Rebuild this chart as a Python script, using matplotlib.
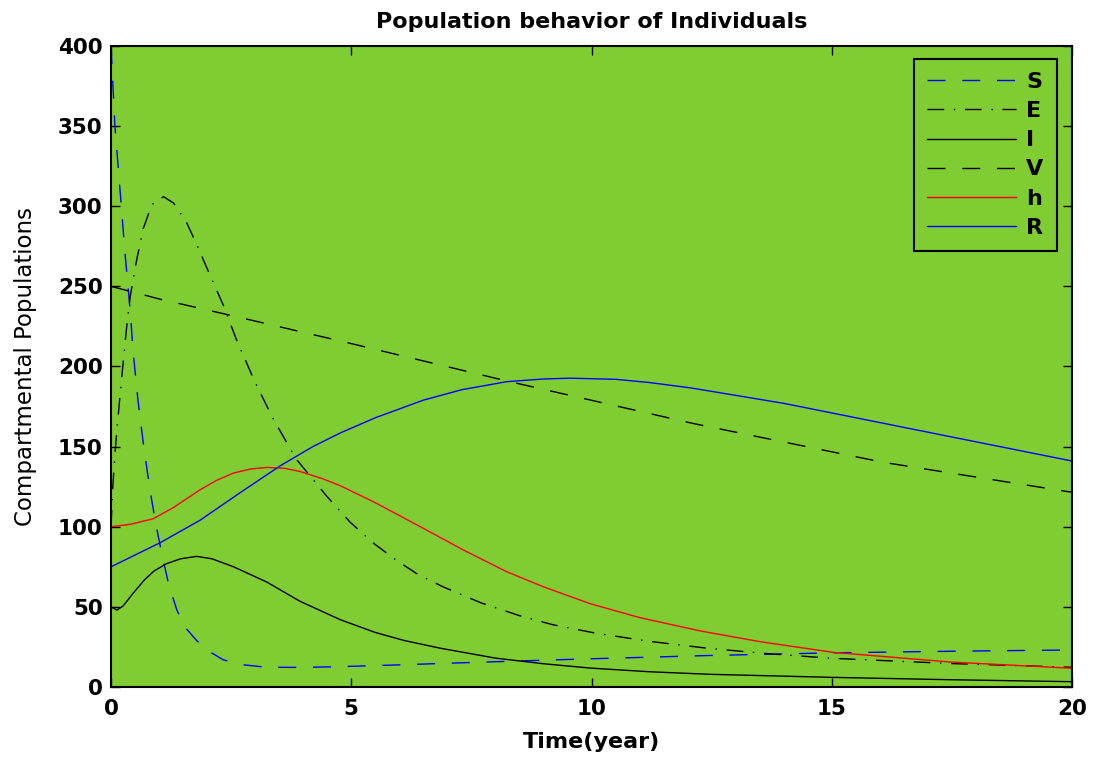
import numpy as np
import matplotlib
matplotlib.use('Agg')
from matplotlib import pyplot as plt

# values
t_S = [0, 0.08, 0.19, 0.29, 0.40, 0.46, 0.56, 0.68, 0.81, 0.93, 1.05, 1.2, 1.37, 1.55, 1.78, 2.0,
       2.33, 2.7, 3.24, 4.0, 4.77, 6.0, 7.0, 8.58, 10.0, 12.4, 15.0, 17.5, 20]
S = [400, 350, 309, 271, 234, 209, 179, 150, 123, 102, 84, 64, 48, 37, 29, 23,
     17, 14, 12.3, 12.2, 12.7, 13.8, 14.8, 16.3, 17.6, 19.6, 21.3, 22.3, 23.1]

t_E = [0, 0.03, 0.08, 0.13, 0.19, 0.26, 0.33, 0.40, 0.53, 0.67, 0.85, 1.09, 1.3, 1.57, 1.8, 2.03,
       2.34, 2.62, 3.0, 3.38, 3.86, 4.49, 4.97, 5.45, 5.94, 6.4, 6.91, 7.7, 8.51, 9.2, 10.1,
       11.2, 12.4, 13.7, 15.0, 17.5, 20]
E = [100, 122, 145, 163, 183, 205, 226, 244, 266, 286, 301, 306, 302, 290, 275, 259,
     238, 216, 190, 167, 142, 119, 103, 90, 79, 70, 62.5, 52.5, 44.4, 38.8, 33.5,
     28.5, 24.2, 20.7, 17.9, 14.6, 12.3]

t_I = [0, 0.12, 0.25, 0.46, 0.7, 0.9, 1.16, 1.45, 1.78, 2.1, 2.55, 3.24, 3.93, 4.77, 5.5,
       6.1, 6.85, 8.0, 9.0, 9.97, 11.2, 12.47, 15, 17.5, 20]
I = [50, 48, 50.5, 58.5, 67, 72.5, 77, 80, 81.5, 80, 75, 65.5, 53.5, 42, 34,
     29, 24.2, 18, 14.5, 11.8, 9.5, 7.9, 6, 4.5, 3.3]

t_V = [0, 1.02, 2.55, 4.9, 8.23, 12.12, 16.07, 20]
V = [250, 242, 231.5, 215, 191, 164.4, 140.2, 121.5]

t_h = [0, 0.4, 0.88, 1.3, 1.85, 2.2, 2.55, 2.9, 3.24, 3.6, 3.93, 4.4, 4.77, 5.5, 6.5,
       7.3, 8.23, 9.0, 9.97, 11.0, 12.26, 13.5, 15.03, 17.5, 20]
h = [100, 101.5, 105, 112, 123, 129, 133.5, 136, 137, 136.5, 134.5, 130, 125.6, 115, 99,
     86, 72, 62.5, 52, 43.3, 35, 28.3, 21.6, 15.5, 11.7]

t_R = [0, 1.02, 1.85, 2.7, 3.52, 4.2, 4.77, 5.5, 6.5, 7.3, 8.23, 9.0, 9.55, 10.5, 11.2, 12.05,
       14, 16, 18, 20]
R = [75, 90, 104, 121.5, 138, 150, 158.5, 168, 179, 185.5, 190.5, 192.2, 192.7, 192, 190, 186.7,
     177, 165, 153, 141]

green = '#80CC33'

fig = plt.figure(figsize=(10.93, 7.59), dpi=100)
ax = fig.add_axes([0.1016, 0.0949, 0.8792, 0.8445])
ax.set_facecolor(green)

lw = 1.0
ax.plot(t_S, S, color='#0000FF', lw=lw, dashes=(13, 12), label='S')
ax.plot(t_E, E, color='black', lw=lw, dashes=(12, 7, 1, 7), label='E')
ax.plot(t_I, I, color='black', lw=lw, label='I')
ax.plot(t_V, V, color='black', lw=lw, dashes=(13, 12), label='V')
ax.plot(t_h, h, color='#FF0000', lw=lw, label='h')
ax.plot(t_R, R, color='#0000FF', lw=lw, label='R')

ax.set_xlim(0, 20)
ax.set_ylim(0, 400)
ax.set_xticks([0, 5, 10, 15, 20])
ax.set_yticks(range(0, 401, 50))
ax.tick_params(direction='in', length=6.5, width=1, top=True, right=True,
               labelsize=15.5)
ax.tick_params(axis='x', pad=9)
ax.tick_params(axis='y', pad=6)
for lab in ax.get_xticklabels() + ax.get_yticklabels():
    lab.set_fontweight('bold')
for sp in ax.spines.values():
    sp.set_linewidth(1.5)

ax.set_title('Population behavior of Individuals', fontsize=16, fontweight='bold', pad=13)
ax.set_xlabel('Time(year)', fontsize=16, fontweight='bold', labelpad=9)
ax.set_ylabel('Compartmental Populations', fontsize=16.5, labelpad=15)

leg = ax.legend(loc='upper right', bbox_to_anchor=(0.984, 0.98), borderaxespad=0,
                fancybox=False, edgecolor='black', facecolor=green, framealpha=1,
                prop={'weight': 'bold', 'size': 16}, handlelength=4.0,
                labelspacing=0.41, handletextpad=0.45, borderpad=0.6)
leg.get_frame().set_linewidth(1.5)

fig.savefig('out.png', dpi=100)
